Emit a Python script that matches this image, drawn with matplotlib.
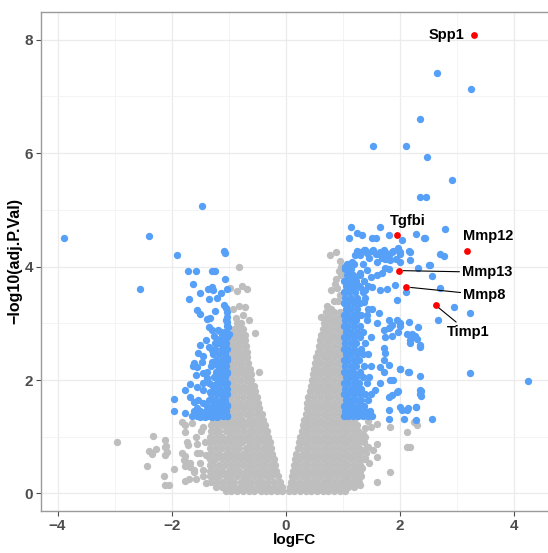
import matplotlib
matplotlib.use("Agg")
import matplotlib.pyplot as plt
from matplotlib.ticker import MultipleLocator

plt.rcParams['font.family'] = ['Liberation Sans', 'DejaVu Sans']

# ---------------- data ----------------
# dense grey cloud, left lobe: (logFC row y, list of logFC x)
gray_core_left = [
    (0.04, [-1.04, -0.95, -0.85, -0.74, -0.65, -0.55, -0.44, -0.35, -0.25, -0.15, -0.06]),
    (0.12, [-1.22, -1.12, -1.01, -0.9, -0.8, -0.69, -0.6, -0.5, -0.39, -0.3, -0.2, -0.11, -0.07]),
    (0.2, [-1.3, -1.21, -1.1, -0.99, -0.9, -0.79, -0.7, -0.6, -0.5, -0.41, -0.3, -0.2, -0.1]),
    (0.3, [-1.32, -1.26, -1.16, -1.05, -0.96, -0.85, -0.75, -0.66, -0.55, -0.45, -0.35, -0.25, -0.13]),
    (0.4, [-1.32, -1.22, -1.11, -1.0, -0.9, -0.81, -0.7, -0.6, -0.51, -0.4, -0.3, -0.22, -0.16]),
    (0.5, [-1.33, -1.27, -1.16, -1.06, -0.95, -0.86, -0.75, -0.65, -0.55, -0.45, -0.36, -0.26, -0.18]),
    (0.6, [-1.33, -1.23, -1.12, -1.01, -0.91, -0.8, -0.7, -0.61, -0.5, -0.4, -0.31, -0.21]),
    (0.7, [-1.32, -1.27, -1.16, -1.05, -0.96, -0.86, -0.75, -0.66, -0.55, -0.45, -0.35, -0.27, -0.23]),
    (0.8, [-1.33, -1.22, -1.11, -1.01, -0.9, -0.81, -0.7, -0.6, -0.5, -0.4, -0.32, -0.25]),
    (0.9, [-1.32, -1.27, -1.16, -1.06, -0.95, -0.85, -0.76, -0.65, -0.55, -0.46, -0.36, -0.27]),
    (1.0, [-1.32, -1.22, -1.11, -1.0, -0.91, -0.8, -0.7, -0.61, -0.5, -0.4, -0.3]),
    (1.1, [-1.3, -1.26, -1.16, -1.05, -0.96, -0.85, -0.75, -0.65, -0.55, -0.45, -0.36, -0.33]),
    (1.2, [-1.3, -1.2, -1.1, -1.0, -0.9, -0.8, -0.71, -0.6, -0.5, -0.42, -0.36]),
    (1.3, [-1.28, -1.15, -1.05, -0.96, -0.85, -0.76, -0.65, -0.55, -0.45, -0.39]),
    (1.4, [-0.98, -0.9, -0.8, -0.7, -0.6, -0.5, -0.42]),
    (1.5, [-0.98, -0.95, -0.85, -0.75, -0.65, -0.55, -0.46]),
    (1.6, [-0.98, -0.9, -0.8, -0.7, -0.6, -0.5, -0.48]),
    (1.7, [-0.98, -0.95, -0.85, -0.75, -0.65, -0.55, -0.5]),
    (1.8, [-0.98, -0.9, -0.8, -0.7, -0.61, -0.53]),
    (1.9, [-0.98, -0.95, -0.85, -0.75, -0.65, -0.56]),
    (2.0, [-0.98, -0.9, -0.8, -0.7, -0.6]),
    (2.1, [-0.98, -0.95, -0.85, -0.75, -0.66, -0.61]),
    (2.2, [-0.98, -0.9, -0.8, -0.71, -0.63]),
    (2.3, [-0.98, -0.95, -0.86, -0.76, -0.66]),
    (2.4, [-0.97, -0.9, -0.8, -0.72, -0.67]),
    (2.5, [-0.96, -0.86, -0.77, -0.68]),
    (2.6, [-0.95, -0.9, -0.81, -0.72, -0.7]),
    (2.7, [-0.94, -0.85, -0.76, -0.71]),
    (2.8, [-0.92, -0.84, -0.77, -0.72]),
    (2.9, [-0.9, -0.82, -0.74]),
    (3.0, [-0.86, -0.78]),
]
# dense grey cloud, right lobe
gray_core_right = [
    (0.04, [0.06, 0.15, 0.25, 0.35, 0.44, 0.55, 0.65, 0.74, 0.85, 0.95, 1.04]),
    (0.12, [0.07, 0.11, 0.2, 0.3, 0.4, 0.5, 0.6, 0.7, 0.8, 0.9, 1.0, 1.1, 1.2]),
    (0.2, [0.09, 0.15, 0.25, 0.35, 0.45, 0.55, 0.65, 0.75, 0.85, 0.95, 1.05, 1.15, 1.26]),
    (0.3, [0.11, 0.2, 0.3, 0.4, 0.5, 0.6, 0.7, 0.8, 0.9, 1.0, 1.1, 1.2, 1.29]),
    (0.4, [0.13, 0.16, 0.25, 0.35, 0.45, 0.55, 0.65, 0.75, 0.85, 0.95, 1.05, 1.15, 1.25, 1.3]),
    (0.5, [0.15, 0.2, 0.3, 0.4, 0.5, 0.6, 0.7, 0.8, 0.9, 1.0, 1.1, 1.2, 1.3]),
    (0.6, [0.17, 0.25, 0.35, 0.45, 0.55, 0.65, 0.75, 0.85, 0.95, 1.05, 1.15, 1.25, 1.3]),
    (0.7, [0.19, 0.3, 0.4, 0.5, 0.6, 0.7, 0.8, 0.9, 1.0, 1.1, 1.2, 1.29]),
    (0.8, [0.21, 0.25, 0.35, 0.45, 0.55, 0.65, 0.75, 0.85, 0.95, 1.05, 1.15, 1.25, 1.28]),
    (0.9, [0.23, 0.3, 0.4, 0.5, 0.6, 0.7, 0.8, 0.9, 1.0, 1.1, 1.2, 1.28]),
    (1.0, [0.26, 0.35, 0.45, 0.55, 0.65, 0.75, 0.85, 0.95, 1.05, 1.15, 1.25, 1.28]),
    (1.1, [0.28, 0.3, 0.4, 0.5, 0.6, 0.7, 0.8, 0.9, 1.0, 1.1, 1.2, 1.27]),
    (1.2, [0.31, 0.35, 0.45, 0.55, 0.65, 0.75, 0.85, 0.95, 1.05, 1.15, 1.25]),
    (1.3, [0.33, 0.4, 0.5, 0.6, 0.7, 0.8, 0.9, 1.0, 1.1, 1.2]),
    (1.4, [0.35, 0.45, 0.55, 0.65, 0.75, 0.85, 0.95, 0.98]),
    (1.5, [0.37, 0.4, 0.5, 0.6, 0.7, 0.8, 0.9, 0.98]),
    (1.6, [0.38, 0.45, 0.55, 0.65, 0.75, 0.85, 0.95, 0.98]),
    (1.7, [0.4, 0.5, 0.6, 0.7, 0.8, 0.9, 0.98]),
    (1.8, [0.42, 0.45, 0.55, 0.65, 0.75, 0.85, 0.95, 0.98]),
    (1.9, [0.44, 0.5, 0.6, 0.7, 0.8, 0.9, 0.98]),
    (2.0, [0.46, 0.55, 0.65, 0.75, 0.85, 0.95, 0.98]),
    (2.1, [0.48, 0.5, 0.6, 0.7, 0.8, 0.9, 0.98]),
    (2.2, [0.5, 0.55, 0.65, 0.75, 0.85, 0.95, 0.98]),
    (2.3, [0.52, 0.6, 0.7, 0.8, 0.9, 0.98]),
    (2.4, [0.54, 0.55, 0.65, 0.75, 0.85, 0.95, 0.98]),
    (2.5, [0.56, 0.6, 0.7, 0.8, 0.9, 0.98]),
    (2.6, [0.58, 0.65, 0.75, 0.85, 0.95, 0.98]),
    (2.7, [0.6, 0.7, 0.8, 0.9, 0.98]),
    (2.8, [0.62, 0.65, 0.75, 0.85, 0.95, 0.98]),
    (2.9, [0.65, 0.7, 0.8, 0.9, 0.98]),
    (3.0, [0.68, 0.75, 0.85, 0.95]),
    (3.1, [0.72, 0.8, 0.9, 0.96]),
    (3.2, [0.75, 0.85, 0.95]),
]
# scattered grey points
gray_x = [-2.95, -2.32, -2.11, -2.4, -2.34, -2.27, -2.11, -2.08, -2.11, -2.43, -1.96, -2.14,
          -2.11, -2.05, -1.82, -1.76, -1.64, -1.76, -1.73, -1.72, -1.81, -1.76, -1.74, -1.76,
          -1.61, -1.67, -1.58, -1.55, -1.55, -1.76, -1.7, -1.57, -1.44, -1.79, -1.67, -1.61,
          -1.5, -1.44, -1.35, -1.4, -2.09, -1.5, -1.45, -1.42, -1.48, -1.4,
          -0.81, -0.98, -0.86, -0.76, -0.68, -0.81, -0.72, -0.87, -0.53, -0.47, -0.75, -0.92, -0.65,
          1.6, 1.54, 1.6, 1.84, 1.6, 1.28, 1.31, 1.1, 1.84, 2.13, 2.13, 2.19, 2.25, 2.3, 1.38,
          1.45, 1.41, 1.38, 1.22, 1.6, 1.4, 1.49, 1.46, 1.34, 1.4, 1.43, 1.37, 1.4, 1.35, 1.45, 1.33,
          0.78, 0.89, 0.96, 0.93, 0.88, 0.9, 0.8, 0.95, 0.72, 0.8, 0.92, 0.62, 0.86, 0.97, 0.98, 0.85, 0.7]
gray_y = [0.9, 1.02, 0.94, 0.75, 0.69, 0.78, 0.82, 0.73, 0.68, 0.48, 0.43, 0.31,
          0.15, 0.15, 1.26, 1.2, 1.25, 1.09, 0.91, 0.85, 0.71, 0.66, 0.56, 0.48,
          0.41, 0.46, 1.0, 0.88, 0.71, 0.22, 0.25, 0.26, 1.17, 0.59, 0.53, 0.38,
          0.53, 0.42, 0.65, 0.68, 0.83, 0.71, 0.3, 0.9, 1.1, 0.18,
          3.99, 3.62, 3.57, 3.66, 3.6, 3.3, 3.29, 3.1, 2.83, 2.14, 3.15, 3.25, 3.05,
          0.88, 0.76, 0.65, 0.38, 0.2, 0.2, 0.15, 0.18, 1.17, 1.08, 0.82, 0.82, 1.26, 1.2, 0.76,
          0.82, 0.71, 0.6, 0.44, 1.23, 1.15, 1.17, 0.53, 0.44, 0.62, 0.82, 0.91, 1.0, 1.05, 1.28, 0.3,
          4.2, 4.26, 4.1, 3.92, 3.78, 3.63, 3.58, 3.5, 3.3, 3.25, 3.4, 3.12, 3.7, 3.85, 4.0, 3.4, 3.2]

# dense blue columns (significant genes), rows of (y, [x])
blue_core_right = [
    (1.36, [1.02, 1.1, 1.18, 1.27, 1.35, 1.44, 1.52]),
    (1.45, [1.05, 1.13, 1.22, 1.3, 1.4, 1.48]),
    (1.55, [1.02, 1.1, 1.19, 1.28, 1.37]),
    (1.65, [1.06, 1.14, 1.23, 1.32, 1.45]),
    (1.75, [1.02, 1.1, 1.2, 1.3, 1.4, 1.5]),
    (1.85, [1.05, 1.15, 1.24, 1.33]),
    (1.95, [1.02, 1.1, 1.2, 1.28, 1.42]),
    (2.05, [1.06, 1.14, 1.23, 1.35, 1.46]),
    (2.15, [1.02, 1.1, 1.19, 1.3]),
    (2.25, [1.05, 1.15, 1.24, 1.38, 1.5]),
    (2.35, [1.02, 1.1, 1.2, 1.29]),
    (2.45, [1.06, 1.14, 1.25, 1.36, 1.45]),
    (2.55, [1.02, 1.1, 1.2, 1.32]),
    (2.65, [1.05, 1.15, 1.24, 1.4]),
    (2.75, [1.02, 1.1, 1.2, 1.3, 1.5]),
    (2.85, [1.06, 1.14, 1.25, 1.36]),
    (2.95, [1.02, 1.1, 1.2, 1.3]),
    (3.05, [1.05, 1.15, 1.24, 1.42]),
    (3.15, [1.02, 1.1, 1.2, 1.33]),
    (3.25, [1.06, 1.14, 1.26, 1.45]),
    (3.35, [1.02, 1.1, 1.2, 1.3]),
    (3.45, [1.05, 1.15, 1.25, 1.4]),
    (3.55, [1.02, 1.12, 1.22, 1.35]),
    (3.65, [1.06, 1.16, 1.28, 1.45]),
    (3.75, [1.03, 1.12, 1.24, 1.38]),
    (3.85, [1.07, 1.18, 1.3]),
    (3.95, [1.04, 1.15]),
    (4.05, [1.08, 1.2, 1.35]),
]
blue_core_left = [
    (1.36, [-1.02, -1.1, -1.18, -1.27, -1.36, -1.45, -1.55, -1.64]),
    (1.45, [-1.05, -1.13, -1.22, -1.3, -1.4, -1.5, -1.6]),
    (1.55, [-1.02, -1.1, -1.19, -1.28, -1.38]),
    (1.65, [-1.06, -1.14, -1.23, -1.34]),
    (1.75, [-1.02, -1.1, -1.2, -1.3]),
    (1.85, [-1.05, -1.15, -1.25]),
    (1.95, [-1.02, -1.1, -1.2, -1.35]),
    (2.05, [-1.06, -1.14, -1.26]),
    (2.15, [-1.02, -1.1, -1.22, -1.38]),
    (2.25, [-1.05, -1.15, -1.3]),
    (2.35, [-1.02, -1.1, -1.22]),
    (2.45, [-1.06, -1.16, -1.28]),
    (2.55, [-1.02, -1.12, -1.24]),
    (2.65, [-1.05, -1.18]),
    (2.75, [-1.02, -1.1]),
    (2.85, [-1.06, -1.14]),
    (2.95, [-1.02]),
    (3.05, [-1.05]),
    (3.2, [-1.03]),
]
# individually read blue points
blue_x = [-3.89, -2.4, -2.55, -1.46, -1.91, -1.08, -1.07, -1.72, -1.57, -1.29, -1.23, -1.06,
          -1.63, -1.36, -1.29, -1.27, -1.2, -1.13, -1.03, -1.51, -1.69, -1.35, -1.08, -1.04,
          -1.55, -1.5, -1.23, -1.38, -1.32, -1.03, -1.02, -1.35, -1.29, -1.18, -1.01, -1.0,
          -1.4, -1.26, -1.2, -1.12, -1.5, -1.35, -1.29, -1.23, -1.15, -1.09, -1.53, -1.44,
          -1.61, -1.62, -1.55, -1.47, -1.29, -1.2, -1.12, -1.03, -1.06, -1.15, -1.58, -1.44,
          -1.38, -1.23, -1.12, -1.03, -1.44, -1.29, -1.18, -1.06, -1.76, -1.67, -1.55, -1.44,
          -1.32, -1.2, -1.12, -1.03, -1.96, -1.68, -1.61, -1.53, -1.44, -1.29, -1.2, -1.09,
          -1.03, -1.95, -1.77, -1.55, -1.5, -1.44, -1.35, -1.23, -1.15, -1.09, -1.02, -1.5,
          -1.41, -1.29, -1.2,
          2.66, 3.26, 2.35, 1.53, 2.11, 2.48, 2.91, 2.35, 2.46, 4.25, 3.23,
          1.15, 1.65, 2.8, 1.12, 1.25, 1.34, 1.52, 1.59, 1.81, 2.05, 2.29, 2.43,
          1.26, 1.37, 1.43, 1.52, 1.31, 1.22, 1.46, 1.58, 1.66, 1.75, 1.81, 1.89, 1.98, 2.01,
          1.69, 1.61, 1.75, 1.84, 1.93, 2.01, 2.16, 2.19, 2.77, 1.16, 1.05, 2.53, 2.33, 2.57,
          1.08, 1.14, 1.22, 1.31, 1.43, 1.49, 1.6, 1.69, 1.75, 1.81, 1.92, 2.12, 2.7,
          1.08, 1.19, 1.31, 1.4, 1.52, 1.66, 1.78, 1.95, 2.95, 3.23, 2.67,
          1.08, 1.22, 1.37, 1.52, 1.63, 1.14, 1.28, 1.43, 1.81, 1.95, 2.01, 2.16, 2.33, 1.84,
          1.6, 1.72, 1.98, 2.13, 2.27, 2.36, 2.19, 2.01, 2.16,
          1.66, 1.81, 1.84, 1.66, 1.95, 1.81, 2.01, 2.13, 2.28, 2.36, 2.36, 1.81, 1.81, 2.07,
          2.28, 2.57, 2.22, 2.3, 2.01, 1.87, 1.81, 2.19, 2.36, 1.75, 1.87, 1.72, 1.75, 1.72,
          1.72, 2.0, 2.15, 2.35, 1.89, 1.57, 1.98, 1.87, 2.37, 2.37, 2.29, 2.14, 2.04,
          1.28, 1.4, 1.54, 1.63, 1.72, 1.87, 1.98, 2.01, 2.19, 2.51, 2.71, 1.78, 2.44]
blue_y = [4.5, 4.54, 3.6, 5.07, 4.2, 4.27, 4.24, 3.92, 3.93, 3.92, 3.92, 3.79,
          3.69, 3.6, 3.64, 3.59, 3.44, 3.54, 3.6, 3.53, 3.43, 3.43, 3.33, 3.27,
          3.24, 3.16, 3.22, 3.07, 3.09, 3.11, 3.03, 2.94, 2.88, 2.89, 2.93, 2.81,
          2.7, 2.78, 2.73, 2.82, 2.61, 2.59, 2.53, 2.65, 2.67, 2.59, 2.47, 2.42,
          2.3, 2.25, 2.23, 2.32, 2.32, 2.26, 2.35, 2.38, 2.26, 2.2, 2.09, 2.13,
          2.03, 2.06, 2.09, 2.12, 1.94, 1.91, 1.97, 1.94, 1.83, 1.93, 1.87, 1.82,
          1.79, 1.85, 1.76, 1.85, 1.67, 1.7, 1.62, 1.65, 1.59, 1.65, 1.59, 1.65,
          1.56, 1.45, 1.42, 1.5, 1.44, 1.38, 1.47, 1.41, 1.47, 1.38, 1.36, 1.35,
          1.34, 1.35, 1.34,
          7.42, 7.14, 6.61, 6.13, 6.13, 5.93, 5.53, 5.22, 5.22, 1.99, 2.13,
          4.7, 4.7, 4.66, 4.5, 4.59, 4.56, 4.5, 4.5, 4.56, 4.47, 4.57, 4.5,
          4.28, 4.29, 4.24, 4.27, 4.2, 4.2, 4.16, 4.22, 4.26, 4.26, 4.2, 4.27, 4.32, 4.25,
          4.16, 4.08, 4.13, 4.11, 4.13, 4.08, 4.27, 4.11, 4.19, 4.08, 4.0, 4.03, 3.97, 3.83,
          3.94, 3.85, 3.79, 3.88, 3.94, 3.82, 3.85, 3.89, 3.97, 3.95, 3.67, 3.56, 3.62,
          3.64, 3.62, 3.64, 3.59, 3.64, 3.59, 3.6, 3.41, 3.29, 3.19, 3.06,
          3.29, 3.35, 3.38, 3.26, 3.18, 3.11, 3.14, 3.14, 3.05, 3.05, 2.96, 3.02, 2.94, 2.94,
          3.0, 2.88, 2.85, 2.81, 2.77, 2.62, 2.7, 2.2, 2.14,
          2.23, 2.26, 2.0, 1.94, 1.79, 1.7, 1.53, 1.47, 1.53, 1.76, 1.82, 1.47, 1.32, 1.32,
          1.29, 1.31, 2.82, 2.72, 3.0, 2.97, 2.91, 2.65, 2.59, 2.76, 2.77, 2.56, 2.47, 2.35,
          2.14, 2.2, 2.15, 2.07, 2.0, 1.82, 1.8, 1.73, 1.8, 1.72, 1.53, 1.5, 1.47,
          4.26, 4.29, 4.29, 4.23, 4.29, 4.26, 4.29, 4.23, 4.26, 4.03, 4.23, 4.14, 4.5]

# labelled genes (red)
label_genes = ["Spp1", "Tgfbi", "Mmp12", "Mmp13", "Mmp8", "Timp1"]
label_x = [3.31, 1.95, 3.19, 1.99, 2.12, 2.63]
label_y = [8.09, 4.55, 4.27, 3.93, 3.64, 3.32]

# ---------------- plotting ----------------
GRAY = "#BEBEBE"
BLUE = "#56A0F8"
RED = "#FF0000"

gx, gy = [], []
for rows in (gray_core_left, gray_core_right):
    for yv, xs in rows:
        gx.extend(xs)
        gy.extend([yv] * len(xs))
gx += gray_x
gy += gray_y

bx, by = [], []
for rows in (blue_core_left, blue_core_right):
    for yv, xs in rows:
        bx.extend(xs)
        by.extend([yv] * len(xs))
bx += blue_x
by += blue_y

fig = plt.figure(figsize=(5.48, 5.53), dpi=100)
ax = fig.add_axes([41 / 548, 42 / 553, (549 - 41) / 548, (511 - 12) / 553])

ax.scatter(gx, gy, s=28, c=GRAY, linewidths=0, zorder=2)
ax.scatter(bx, by, s=28, c=BLUE, linewidths=0, zorder=3)
ax.scatter(label_x, label_y, s=24, c=RED, linewidths=0, zorder=4)

ax.set_xlim(-4.29, 4.62)
ax.set_ylim(-0.31, 8.49)

ax.xaxis.set_major_locator(MultipleLocator(2))
ax.xaxis.set_minor_locator(MultipleLocator(1))
ax.yaxis.set_major_locator(MultipleLocator(2))
ax.yaxis.set_minor_locator(MultipleLocator(1))
ax.set_axisbelow(True)
ax.grid(which="major", color="#EBEBEB", lw=0.9)
ax.grid(which="minor", color="#F3F3F3", lw=0.6)

ax.tick_params(which="major", length=3.5, width=0.8, color="#4D4D4D",
               labelsize=11, labelcolor="#4D4D4D", pad=2)
ax.tick_params(which="minor", length=0)
for lab in ax.get_xticklabels() + ax.get_yticklabels():
    lab.set_fontweight("bold")

for sp in ax.spines.values():
    sp.set_color("#9A9A9A")
    sp.set_linewidth(1.0)

ax.set_xlabel("logFC", fontsize=11, fontweight="bold", labelpad=0)
ax.set_ylabel("\u2212log10(adj.P.Val)", fontsize=11.5, fontweight="bold", labelpad=2)

txt = dict(fontsize=10.5, fontweight="bold", color="black", zorder=5)
seg = dict(arrowstyle="-", color="black", lw=0.8, shrinkA=0, shrinkB=3)
# Spp1: label left of point
ax.text(3.14, 8.09, "Spp1", ha="right", va="center", **txt)
ax.text(2.15, 4.8, "Tgfbi", ha="center", va="center", **txt)
ax.text(3.55, 4.54, "Mmp12", ha="center", va="center", **txt)
ax.annotate("Mmp13", xy=(label_x[3], label_y[3]), xytext=(3.54, 3.9),
            ha="center", va="center", arrowprops=seg, **txt)
ax.annotate("Mmp8", xy=(label_x[4], label_y[4]), xytext=(3.49, 3.5),
            ha="center", va="center", arrowprops=seg, **txt)
ax.annotate("Timp1", xy=(label_x[5], label_y[5]), xytext=(3.2, 2.85),
            ha="center", va="center", arrowprops=seg, **txt)

fig.savefig("out.png", dpi=100)
